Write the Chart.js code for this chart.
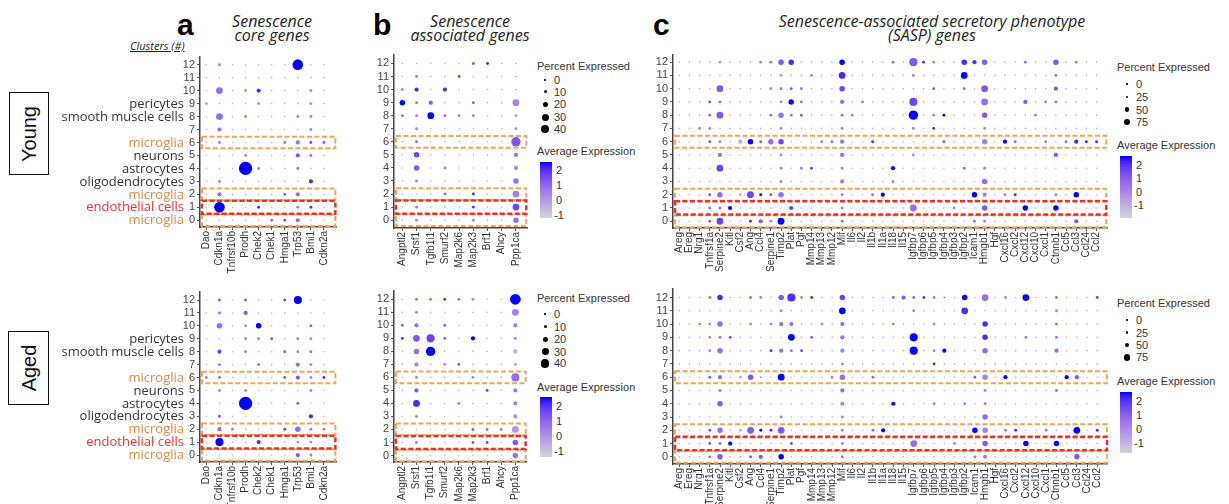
<!DOCTYPE html>
<html>
<head>
<meta charset="utf-8">
<script src="https://cdn.jsdelivr.net/npm/chart.js@4.4.1/dist/chart.umd.min.js"></script>
<style>
  body { margin: 0; width: 1229px; height: 504px; overflow: hidden; position: relative; background: #fff;
         font-family: "Liberation Sans", Arial, sans-serif; }
  canvas { position: absolute; }
  .t { position: absolute; white-space: nowrap; }
  .letter { font: bold 30px "Liberation Sans", Arial, sans-serif; color: #000; line-height: 30px; }
  .title { font: italic 16px "Open Sans", sans-serif; color: #222; line-height: 14px; text-align: center; }
  .cond { position: absolute; border: 1.5px solid #111; box-sizing: border-box; }
  .cond span { position: absolute; left: 50%; top: 50%; transform: translate(-50%, -50%) rotate(-90deg);
               font: 20px "Liberation Sans", Arial, sans-serif; color: #111; }
  .leg { font: 11px "Liberation Sans", Arial, sans-serif; color: #333; }
  .dot { position: absolute; background: #000; border-radius: 50%; }
  .bar { position: absolute; }
</style>
</head>
<body>

<div class="t letter" style="left:177px;top:10px">a</div>
<div class="t letter" style="left:373px;top:10px">b</div>
<div class="t letter" style="left:653px;top:10px">c</div>

<div class="t title" style="left:192px;width:160px;top:14px">Senescence<br>core genes</div>
<div class="t title" style="left:390px;width:160px;top:14px">Senescence<br>associated genes</div>
<div class="t title" style="left:732px;width:400px;top:14px">Senescence-associated secretory phenotype<br>(SASP) genes</div>

<div class="t" style="left:130px;top:38px;font:italic 11px 'Open Sans',sans-serif;color:#222;text-decoration:underline">Clusters (#)</div>

<div class="cond" style="left:9px;top:92px;width:40px;height:83px"><span>Young</span></div>
<div class="cond" style="left:8px;top:331px;width:41px;height:74px"><span>Aged</span></div>

<script>
// rows are listed from cluster 12 (top) down to cluster 0
const clusters = [12, 11, 10, 9, 8, 7, 6, 5, 4, 3, 2, 1, 0];

// cell type names by cluster number
const cellTypes = ['microglia', 'endothelial cells', 'microglia', 'oligodendrocytes', 'astrocytes',
                   'neurons', 'microglia', '', 'smooth muscle cells', 'pericytes', '', '', ''];
const orangeRows = [6, 2, 0];
const redRows = [1];

const coreGenes = ['Dao', 'Cdkn1a', 'Tnfrsf10b', 'Prodh', 'Chek2', 'Chek1', 'Hmga1', 'Trp53', 'Bmi1', 'Cdkn2a'];
const assocGenes = ['Angptl2', 'Srsf1', 'Tgfb1i1', 'Smurf2', 'Map2k6', 'Map2k3', 'Brf1', 'Ahcy', 'Ppp1ca'];
const saspGenes = ['Areg', 'Ereg', 'Nrg1', 'Tnfrsf1a', 'Serpine2', 'Kitl', 'Csf2', 'Ang', 'Ccl4', 'Serpine1',
                   'Timp2', 'Plat', 'Pgf', 'Mmp14', 'Mmp13', 'Mmp12', 'Mif', 'Il6', 'Il2', 'Il1b',
                   'Il1a', 'Il18', 'Il15', 'Igfbp7', 'Igfbp6', 'Igfbp5', 'Igfbp4', 'Igfbp3', 'Igfbp2', 'Icam1',
                   'Hmgb1', 'Hgf', 'Cxcl16', 'Cxcl2', 'Cxcl12', 'Cxcl10', 'Cxcl1', 'Ctnnb1', 'Ccl5', 'Ccl3',
                   'Ccl24', 'Ccl2'];

// percent expressed: one digit per gene = tens of percent
// average expression: one digit per gene, 0 = -1 ... 9 = 2
const youngCorePct = ['0100000700', '0000000000', '0401200010', '1000100010', '0401000110', '0200000010',
  '0100001211', '0001000210', '0009100100', '0100000020', '0200001200', '0700100110', '0000011200'];
const youngCoreExpr = ['2422222922', '2222222222', '2524822242', '3222422242', '2524222442', '2522222242',
  '2422225576', '2224222652', '2229422522', '2422222282', '2522226522', '2922822482', '2222256522'];
const agedCorePct = ['0101001500', '0102000000', '0301300010', '0001110110', '0201001110', '0100100210',
  '1100001211', '0101000010', '0009000100', '0100000020', '0210001311', '0500200110', '0000000210'];
const agedCoreExpr = ['2626227922', '2526222222', '2524922262', '2224462442', '2724226452', '2522522542',
  '4522226648', '2424222242', '2229222622', '2622222282', '2542227544', '2922822442', '2222222642'];

const youngAssocPct = ['000001100', '010010000', '120200000', '312001004', '114111001', '010000001',
  '010000006', '030000002', '030100002', '010000003', '000101004', '010001004', '010001003'];
const youngAssocExpr = ['222226823', '242272223', '482822223', '956226224', '549544223', '242222223',
  '252222226', '272222225', '262422224', '242222225', '222528224', '252228227', '242224225'];
const agedAssocPct = ['011111007', '010000004', '120100002', '145102001', '036000002', '020110001',
  '010001005', '020000102', '040010002', '010000002', '000001114', '010001103', '000000003'];
const agedAssocExpr = ['255854229', '242222224', '652622224', '867629224', '259222222', '242462223',
  '242224225', '262222724', '282242224', '242222223', '222226543', '242226726', '222222225'];

const youngSaspPct = [
  '0000100011 3300003000 0105110032 3000100301 00',
  '0000000000 1001004000 0001000040 0000000100 00',
  '0000400001 1110003000 0000010010 4000000200 00',
  '0001100000 1310002010 0005000000 4000201100 00',
  '0001400001 3110001100 0006011000 3000010000 00',
  '0011000000 1000001000 0001010000 1000000000 00',
  '0001102313 3000112001 0000001000 3021001012 11',
  '0000200000 1000002000 0001000000 0000000200 00',
  '0000400000 1011001000 0200000010 1000000000 00',
  '0000000000 1000002000 0100000000 3000000000 00',
  '0001301411 3000001001 2000000003 2011000103 00',
  '0001120000 0200001000 0004000100 3000300300 00',
  '0001400121 4000001000 0000000001 1000000002 00'];
const youngSaspExpr = [
  '2222322245 6822229222 2526842288 6222522624 22',
  '2222222222 3224228222 2224222292 2222222522 22',
  '2222622224 5652227222 2222262252 6222222622 22',
  '2226522222 4952225242 2227222222 5222624522 22',
  '2225622225 5562225422 2229249222 6222242222 22',
  '2244222222 4222224222 2224282222 4222222222 22',
  '2226422965 7222455228 2222226222 4295224258 88',
  '2222522222 4222225222 2224222222 2222222622 22',
  '2222722222 4247224222 2922222252 4222222222 22',
  '2222222222 4222224222 2422222222 5222222222 22',
  '2226522796 5222224225 9222222229 4248222429 22',
  '2225592222 2722224222 2225222422 6222922922 22',
  '2226722864 9222225222 2222222225 4222222226 22'];
const agedSaspPct = [
  '0001300110 3511003000 0121110030 4010400100 01',
  '0000000000 1000004000 0001000040 0000000100 00',
  '0011300101 2200102000 0100010000 3000000100 00',
  '0001110000 0401002000 0005000000 3000100100 00',
  '0001300001 2110002000 0005012000 3000000200 00',
  '0000000000 0000001000 0000010000 0000000000 00',
  '0001201300 4000013001 0000000001 3020000022 00',
  '0000100000 0000002000 0000000000 1000000100 00',
  '0000300000 0000002000 0200010010 1000000000 00',
  '0000000000 1000001000 0000000000 3000000000 00',
  '0001301411 4000001001 2000000003 3011001004 01',
  '0001120000 0100001000 0004000100 3000300300 00',
  '0001300120 3000001000 0000000001 2000000003 00'];
const agedSaspExpr = [
  '2225822542 6848227222 2665847292 5242922522 27',
  '2222222222 4222229222 2224222282 2222222422 22',
  '2244522424 5522425222 2422242222 8222222522 22',
  '2224572222 2926225222 2229222222 8222522522 22',
  '2224522228 5572224222 2229249222 5222222522 22',
  '2222222222 2222224222 2222282222 2222222222 22',
  '2226522662 9222245225 2222222226 4292222296 22',
  '2222522222 2222225222 2222222222 4222222522 22',
  '2222622222 2222224222 2922242242 4222222222 22',
  '2222222222 4222224222 2222222222 5222222222 22',
  '2226522698 6222224225 9222222229 4248224229 28',
  '2226592222 2622224222 2225222422 6222922922 22',
  '2225622762 9222225222 2222222225 4222222226 22'];

// --- colour scale: lightgrey -> blue, interpolated in Lab like ggplot
function toLin(c) { c /= 255; return c <= 0.04045 ? c / 12.92 : Math.pow((c + 0.055) / 1.055, 2.4); }
function fromLin(c) {
  c = c <= 0.0031308 ? 12.92 * c : 1.055 * Math.pow(c, 1 / 2.4) - 0.055;
  return Math.round(Math.max(0, Math.min(1, c)) * 255);
}
function rgbToLab([r, g, b]) {
  const R = toLin(r), G = toLin(g), B = toLin(b);
  const x = (R * 0.4124 + G * 0.3576 + B * 0.1805) / 0.95047;
  const y = R * 0.2126 + G * 0.7152 + B * 0.0722;
  const z = (R * 0.0193 + G * 0.1192 + B * 0.9505) / 1.08883;
  const f = t => t > 0.008856 ? Math.cbrt(t) : 7.787 * t + 16 / 116;
  return [116 * f(y) - 16, 500 * (f(x) - f(y)), 200 * (f(y) - f(z))];
}
function labToRgb([L, a, b]) {
  const fy = (L + 16) / 116, fx = fy + a / 500, fz = fy - b / 200;
  const fi = t => t * t * t > 0.008856 ? t * t * t : (t - 16 / 116) / 7.787;
  const x = fi(fx) * 0.95047, y = fi(fy), z = fi(fz) * 1.08883;
  return [fromLin(x * 3.2406 - y * 1.5372 - z * 0.4986),
          fromLin(-x * 0.9689 + y * 1.8758 + z * 0.0415),
          fromLin(x * 0.0557 - y * 0.2040 + z * 1.0570)];
}
const labLow = rgbToLab([211, 211, 211]);
const labHigh = rgbToLab([0, 0, 255]);
function scaleColor(t) {
  t = Math.max(0, Math.min(1, t));
  const c = labToRgb(labLow.map((v, i) => v + (labHigh[i] - v) * t));
  return `rgb(${c[0]},${c[1]},${c[2]})`;
}
const exprColor = e => scaleColor((e + 1) / 3);
const dotRadius = pct => 0.8 + pct * 0.065;

function buildPoints(pctRows, exprRows) {
  const pts = [];
  clusters.forEach((cl, i) => {
    const p = pctRows[i].replace(/ /g, ''), e = exprRows[i].replace(/ /g, '');
    for (let j = 0; j < p.length; j++) {
      pts.push({ x: j, y: cl, pct: +p[j] * 10, expr: -1 + (+e[j]) / 3 });
    }
  });
  return pts;
}

// dashed boxes around the highlighted clusters, and the cell type names
const overlay = {
  id: 'overlay',
  afterDatasetsDraw(chart) {
    const { ctx, chartArea: a, scales: { y } } = chart;
    const box = (lo, hi, color, w) => {
      const top = y.getPixelForValue(hi), bot = y.getPixelForValue(lo);
      ctx.save();
      ctx.strokeStyle = color; ctx.lineWidth = w; ctx.setLineDash([5, 2.5]);
      ctx.strokeRect(a.left + 2, top, a.right - a.left - 3, bot - top);
      ctx.restore();
    };
    orangeRows.forEach(r => box(r - 0.45, r + 0.45, '#f2a45c', 2));
    redRows.forEach(r => box(r - 0.5, r + 0.5, '#e8302c', 2.5));
  },
  afterDraw(chart, args, opts) {
    if (!opts.nameX) return;
    const { ctx, scales: { y } } = chart;
    ctx.save();
    ctx.font = '13px "Open Sans", sans-serif';
    ctx.textAlign = 'right';
    ctx.textBaseline = 'middle';
    cellTypes.forEach((name, cl) => {
      if (!name) return;
      ctx.fillStyle = name === 'microglia' ? '#dc8a48' : name === 'endothelial cells' ? '#e8333a' : '#333';
      ctx.fillText(name, opts.nameX, y.getPixelForValue(cl) + 0.5);
    });
    ctx.restore();
  }
};

function dotChart(genes, pctRows, exprRows, b) {
  const cv = document.createElement('canvas');
  cv.width = b.R - b.L + b.yw;
  cv.height = b.B - b.T + b.xh;
  cv.style.left = (b.L - b.yw) + 'px';
  cv.style.top = b.T + 'px';
  document.body.appendChild(cv);
  const axisGrid = { drawOnChartArea: false, tickLength: 3, color: '#555', lineWidth: 1 };
  const axisBorder = { color: '#444', width: 1.5 };
  return new Chart(cv.getContext('2d'), {
    type: 'scatter',
    data: {
      datasets: [{
        data: buildPoints(pctRows, exprRows),
        pointRadius: c => dotRadius(c.raw.pct),
        pointBackgroundColor: c => exprColor(c.raw.expr),
        pointBorderWidth: 0
      }]
    },
    options: {
      responsive: false,
      animation: false,
      events: [],
      layout: { padding: 0 },
      plugins: { legend: { display: false }, tooltip: { enabled: false }, overlay: { nameX: b.nameX } },
      scales: {
        x: {
          type: 'linear', min: b.xMin, max: b.xMax,
          afterBuildTicks: s => { s.ticks = genes.map((g, i) => ({ value: i })); },
          afterFit: s => { s.height = b.xh; s.paddingLeft = 0; s.paddingRight = 0; },
          ticks: { autoSkip: false, minRotation: 90, maxRotation: 90, padding: 1, color: '#333',
                   font: { family: '"Liberation Sans", Arial, sans-serif', size: 10 },
                   callback: v => genes[v] },
          grid: axisGrid, border: axisBorder
        },
        y: {
          type: 'linear', min: b.yMin, max: b.yMax,
          afterBuildTicks: s => { s.ticks = clusters.map(c => ({ value: c })); },
          afterFit: s => { s.width = b.yw; s.paddingTop = 0; s.paddingBottom = 0; },
          ticks: { autoSkip: false, padding: 2, color: '#444',
                   font: { family: '"Liberation Sans", Arial, sans-serif', size: 11 },
                   callback: v => String(v) },
          grid: axisGrid, border: axisBorder
        }
      }
    },
    plugins: [overlay]
  });
}

// Young row
dotChart(coreGenes, youngCorePct, youngCoreExpr,
  { L: 200, R: 343, T: 50, B: 227, yw: 150, xh: 62, xMin: -0.49, xMax: 9.95, yMin: -0.52, yMax: 12.62, nameX: 134 });
dotChart(assocGenes, youngAssocPct, youngAssocExpr,
  { L: 394, R: 532, T: 50, B: 228, yw: 30, xh: 62, xMin: -0.59, xMax: 8.8, yMin: -0.6, yMax: 12.67 });
dotChart(saspGenes, youngSaspPct, youngSaspExpr,
  { L: 673, R: 1112, T: 50, B: 228, yw: 32, xh: 62, xMin: -0.61, xMax: 42.05, yMin: -0.51, yMax: 12.56 });
// Aged row
dotChart(coreGenes, agedCorePct, agedCoreExpr,
  { L: 200, R: 343, T: 285, B: 462, yw: 150, xh: 42, xMin: -0.49, xMax: 9.95, yMin: -0.54, yMax: 12.65, nameX: 134 });
dotChart(assocGenes, agedAssocPct, agedAssocExpr,
  { L: 394, R: 532, T: 285, B: 462, yw: 30, xh: 42, xMin: -0.59, xMax: 8.8, yMin: -0.5, yMax: 12.69 });
dotChart(saspGenes, agedSaspPct, agedSaspExpr,
  { L: 673, R: 1112, T: 285, B: 464, yw: 32, xh: 42, xMin: -0.61, xMax: 42.05, yMin: -0.54, yMax: 12.64 });

// --- legends (HTML)
function addText(txt, x, yc) {
  const d = document.createElement('div');
  d.className = 't leg';
  d.textContent = txt;
  d.style.left = x + 'px';
  d.style.top = (yc - 7) + 'px';
  d.style.lineHeight = '14px';
  document.body.appendChild(d);
}
function addDot(x, y, r) {
  const d = document.createElement('div');
  d.className = 'dot';
  d.style.cssText += `left:${x - r}px;top:${y - r}px;width:${2 * r}px;height:${2 * r}px`;
  document.body.appendChild(d);
}
const barGradient = 'linear-gradient(to bottom,' +
  Array.from({ length: 11 }, (_, i) => scaleColor(1 - i / 10)).join(',') + ')';
function addLegend(g, sizes, colorTicks) {
  addText('Percent Expressed', g.x, g.pctY);
  sizes.forEach(([lab, y, r]) => { addDot(g.dotX, y, r); addText(lab, g.dotX + 9, y); });
  addText('Average Expression', g.x, g.avgY);
  const bar = document.createElement('div');
  bar.className = 'bar';
  bar.style.cssText += `left:${g.x + 3}px;top:${g.barTop}px;width:12px;height:${g.barBot - g.barTop}px;background:${barGradient}`;
  document.body.appendChild(bar);
  colorTicks.forEach(([lab, y]) => addText(lab, lab.length > 1 ? g.x + 17 : g.x + 19, y));
}
addLegend({ x: 537, pctY: 66, dotX: 545, avgY: 151, barTop: 162, barBot: 218 },
  [['0', 80, 0.75], ['10', 91.5, 1.5], ['20', 104, 2.5], ['30', 117, 3.5], ['40', 129, 4.35]],
  [['2', 169.5], ['1', 184.5], ['0', 199.5], ['-1', 214.5]]);
addLegend({ x: 537, pctY: 298, dotX: 545, avgY: 387, barTop: 397, barBot: 457 },
  [['0', 314, 0.75], ['10', 326.7, 1.5], ['20', 339.3, 2.5], ['30', 351.7, 3.5], ['40', 363.3, 4.35]],
  [['2', 406], ['1', 421], ['0', 436], ['-1', 451]]);
addLegend({ x: 1117, pctY: 67, dotX: 1127, avgY: 145, barTop: 156, barBot: 218 },
  [['0', 84, 0.7], ['25', 97, 1.4], ['50', 109.5, 2.3], ['75', 122, 3.3]],
  [['2', 164.5], ['1', 178], ['0', 191.5], ['-1', 205]]);
addLegend({ x: 1117, pctY: 303, dotX: 1127, avgY: 381, barTop: 392, barBot: 453 },
  [['0', 320, 0.7], ['25', 332.7, 1.4], ['50', 345, 2.3], ['75', 357.3, 3.3]],
  [['2', 401], ['1', 415], ['0', 429], ['-1', 443]]);
</script>
</body>
</html>
